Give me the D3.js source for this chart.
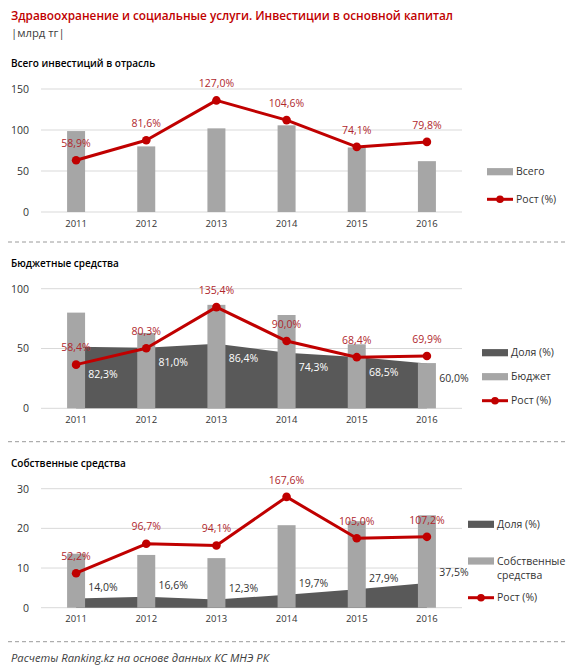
<!DOCTYPE html>
<html>
<head>
<meta charset="utf-8">
<script src="https://cdn.jsdelivr.net/npm/d3@7"></script>
<style>
  body { margin: 0; background: #fff; }
  text { font-family: "Open Sans", "Noto Sans", sans-serif; }
</style>
</head>
<body>
<script>
// Data
var years = ["2011", "2012", "2013", "2014", "2015", "2016"];

var totalInv = [98.7, 80, 102, 105.7, 78.7, 62];
var totalGrowth = [58.9, 81.6, 127.0, 104.6, 74.1, 79.8];

var budgetInv = [80, 63, 86.5, 78, 53.5, 37.8];
var budgetShare = [82.3, 81.0, 86.4, 74.3, 68.5, 60.0];
var budgetGrowth = [58.4, 80.3, 135.4, 90.0, 68.4, 69.9];

var ownInv = [13.6, 13.3, 12.5, 20.8, 21.8, 23.3];
var ownShare = [14.0, 16.6, 12.3, 19.7, 27.9, 37.5];
var ownGrowth = [52.2, 96.7, 94.1, 167.6, 105.0, 107.2];

var ticks1 = [0, 50, 100, 150];
var ticks2 = [0, 50, 100];
var ticks3 = [0, 10, 20, 30];

var W = 567, H = 671;
var barColor = "#a6a6a6", areaColor = "#595959", lineColor = "#c00000";

var svg = d3.select("body").append("svg")
  .attr("width", W)
  .attr("height", H);

// number format with comma as decimal mark
var ru = d3.formatLocale({decimal: ",", thousands: " ", grouping: [3], currency: ["", ""]});
var pct = function(v) { return ru.format(".1f")(v) + "%"; };

// Header
svg.append("text")
  .attr("x", 11).attr("y", 19.5)
  .attr("fill", "#c00000")
  .style("font-size", "11.8px")
  .style("font-weight", 600)
  .text("Здравоохранение и социальные услуги. Инвестиции в основной капитал");

svg.append("text")
  .attr("x", 11).attr("y", 36.5)
  .attr("fill", "#404040")
  .style("font-size", "11.3px")
  .text("|млрд тг|");

// dashed separators
[242, 441.7, 641.7].forEach(function(y) {
  svg.append("line")
    .attr("x1", 8).attr("x2", W)
    .attr("y1", y).attr("y2", y)
    .attr("stroke", "#9a9a9a")
    .attr("stroke-dasharray", "4,3");
});

svg.append("text")
  .attr("x", 11).attr("y", 661.5)
  .attr("fill", "#404040")
  .style("font-size", "11.2px")
  .style("font-style", "italic")
  .text("Расчеты Ranking.kz на основе данных КС МНЭ РК");

var xScale = d3.scaleBand()
  .domain(years)
  .range([41, 462]);
var bw = xScale.bandwidth();
var cx = function(d) { return xScale(d) + bw / 2; };

function drawPanel(opt) {
  var g = svg.append("g");

  var y = d3.scaleLinear().domain([0, d3.max(opt.ticks)]).range([opt.bottom, opt.top]);
  var y2 = d3.scaleLinear().domain([0, opt.max2]).range([opt.bottom, opt.top]);

  g.append("text")
    .attr("x", 11).attr("y", opt.titleY)
    .attr("fill", "#000")
    .style("font-size", "10px")
    .style("font-weight", 600)
    .text(opt.title);

  // gridlines
  g.selectAll(".grid").data(opt.ticks).enter().append("line")
    .attr("x1", 41).attr("x2", 462)
    .attr("y1", d => y(d)).attr("y2", d => y(d))
    .attr("stroke", "#d9d9d9");

  // y axis labels
  var yAxis = g.append("g")
    .attr("transform", "translate(41,0)")
    .call(d3.axisLeft(y).tickValues(opt.ticks).tickSize(0).tickPadding(12));
  yAxis.select(".domain").remove();
  yAxis.selectAll("text").attr("fill", "#333").style("font-size", "10.5px");

  // x axis labels
  var xAxis = g.append("g")
    .attr("transform", "translate(0," + opt.bottom + ")")
    .call(d3.axisBottom(xScale).tickSize(0).tickPadding(8));
  xAxis.select(".domain").remove();
  xAxis.selectAll("text").attr("fill", "#333").style("font-size", "9.5px");

  var rows = years.map(function(yr, i) {
    return {year: yr, bar: opt.bars[i], growth: opt.growth[i], share: opt.share ? opt.share[i] : null};
  });

  // share area behind bars
  if (opt.share) {
    var area = d3.area()
      .x(d => cx(d.year))
      .y0(opt.bottom)
      .y1(d => y2(d.share));
    g.append("path")
      .datum(rows)
      .attr("d", area)
      .attr("fill", areaColor);
  }

  g.selectAll(".bar").data(rows).enter().append("rect")
    .attr("x", d => cx(d.year) - 9)
    .attr("width", 18)
    .attr("y", d => y(d.bar))
    .attr("height", d => opt.bottom - y(d.bar))
    .attr("fill", barColor);

  // growth line
  var line = d3.line()
    .x(d => cx(d.year))
    .y(d => y2(d.growth));
  g.append("path")
    .datum(rows)
    .attr("d", line)
    .attr("fill", "none")
    .attr("stroke", lineColor)
    .attr("stroke-width", 3)
    .attr("stroke-linejoin", "round");

  g.selectAll(".dot").data(rows).enter().append("circle")
    .attr("cx", d => cx(d.year))
    .attr("cy", d => y2(d.growth))
    .attr("r", 4.3)
    .attr("fill", lineColor);

  g.selectAll(".glab").data(rows).enter().append("text")
    .attr("x", d => cx(d.year))
    .attr("y", d => y2(d.growth) - 17)
    .attr("dy", "0.35em")
    .attr("text-anchor", "middle")
    .attr("fill", "#b0272d")
    .style("font-size", "10.5px")
    .text(d => pct(d.growth));

  // share labels, nudged away from the growth line when they collide
  if (opt.share) {
    var interp = function(px, key) {
      for (var i = 0; i < rows.length - 1; i++) {
        var a = cx(rows[i].year), b = cx(rows[i + 1].year);
        if (px >= a && px <= b) {
          var t = (px - a) / (b - a);
          return y2(rows[i][key]) * (1 - t) + y2(rows[i + 1][key]) * t;
        }
      }
      return null;
    };
    rows.forEach(function(d) {
      var lx = cx(d.year) + 27;
      var ly = y2(d.share) + opt.shareDy;
      var ln = interp(lx, "growth");
      if (ln !== null && Math.abs(ly - ln) < 10) ly = ln + 16;
      var ay = interp(lx, "share");
      var inside = ay !== null && ly - 5 > ay;
      g.append("text")
        .attr("x", lx)
        .attr("y", ly)
        .attr("dy", "0.35em")
        .attr("text-anchor", "middle")
        .attr("fill", inside ? "#fff" : "#333")
        .style("font-size", "10.5px")
        .text(pct(d.share));
    });
  }

  // legend
  var lg = g.append("g").attr("transform", "translate(" + opt.legendX + ",0)");
  opt.legend.forEach(function(item) {
    if (item.type === "line") {
      lg.append("line")
        .attr("x1", 0).attr("x2", 26)
        .attr("y1", item.y).attr("y2", item.y)
        .attr("stroke", lineColor).attr("stroke-width", 3);
      lg.append("circle")
        .attr("cx", 13).attr("cy", item.y).attr("r", 3.8)
        .attr("fill", lineColor);
    } else {
      lg.append("rect")
        .attr("x", 0).attr("y", item.y - 3.6)
        .attr("width", 26).attr("height", 7.2)
        .attr("fill", item.color);
    }
    item.label.forEach(function(s, k) {
      lg.append("text")
        .attr("x", 29).attr("y", item.y + k * 14.5)
        .attr("dy", "0.35em")
        .attr("fill", "#333")
        .style("font-size", "10.5px")
        .text(s);
    });
  });
}

drawPanel({
  title: "Всего инвестиций в отрасль", titleY: 66.5,
  top: 89, bottom: 212, ticks: ticks1, max2: 140,
  bars: totalInv, growth: totalGrowth,
  legendX: 487,
  legend: [
    {type: "rect", color: barColor, y: 171.7, label: ["Всего"]},
    {type: "line", y: 199.3, label: ["Рост (%)"]}
  ]
});

drawPanel({
  title: "Бюджетные средства", titleY: 267.3,
  top: 288.7, bottom: 408.3, ticks: ticks2, max2: 160,
  bars: budgetInv, growth: budgetGrowth, share: budgetShare, shareDy: 15,
  legendX: 482,
  legend: [
    {type: "rect", color: areaColor, y: 352.7, label: ["Доля (%)"]},
    {type: "rect", color: barColor, y: 376.7, label: ["Бюджет"]},
    {type: "line", y: 400.7, label: ["Рост (%)"]}
  ]
});

drawPanel({
  title: "Собственные средства", titleY: 466.8,
  top: 488.7, bottom: 607.7, ticks: ticks3, max2: 180,
  bars: ownInv, growth: ownGrowth, share: ownShare, shareDy: -11,
  legendX: 468,
  legend: [
    {type: "rect", color: areaColor, y: 524.3, label: ["Доля (%)"]},
    {type: "rect", color: barColor, y: 561, label: ["Собственные", "средства"]},
    {type: "line", y: 597.7, label: ["Рост (%)"]}
  ]
});
</script>
</body>
</html>
